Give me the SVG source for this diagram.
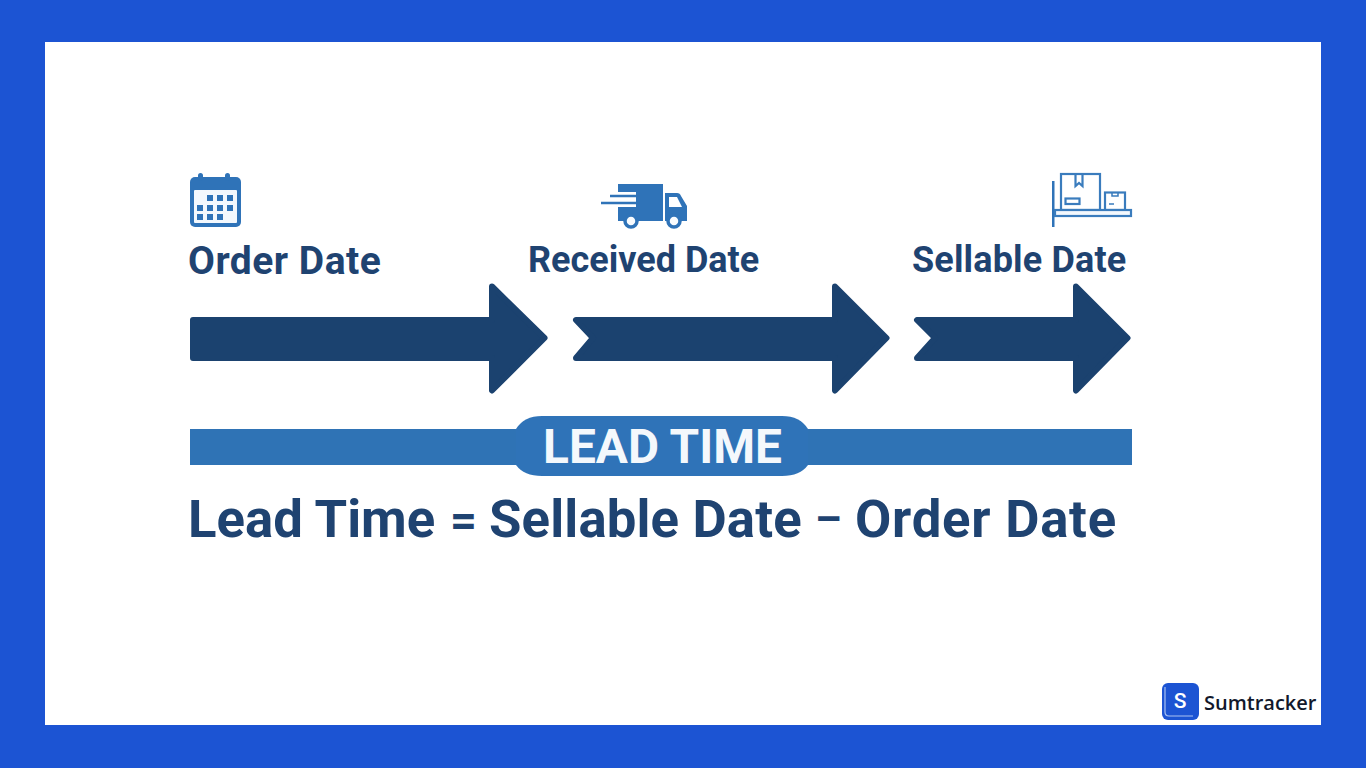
<svg xmlns="http://www.w3.org/2000/svg" width="1366" height="768" viewBox="0 0 1366 768">
<style>
text{font-family:Roboto,"Liberation Sans",sans-serif;font-weight:700;fill:#1f4371}
.lbl{font-size:36px}
.arrow{fill:#1b426f;stroke:#1b426f;stroke-width:6;stroke-linejoin:round}
.ico{fill:none;stroke:#3a7cbd;stroke-width:2.200}
.solid{fill:#2f73b8}
</style>
<rect width="1366" height="768" fill="#1c54d3"/>
<rect x="45" y="42" width="1276" height="683" fill="#ffffff"/>
<g id="connectors">
<path class="arrow" d="M193 320H492V286.500L544.500 338L492 390.500V358H193Z"/>
<path class="arrow" d="M576 320H835V286.500L886.500 338L835 390.500V358H576L593 338Z"/>
<path class="arrow" d="M917 320H1076V286.500L1127.500 338L1076 390.500V358H917L935 338Z"/>
</g>
<g id="lead-time">
<rect x="190" y="429" width="942" height="36" fill="#2f73b5"/>
<path d="M516 429Q524 416 542 416H782Q800 416 808 429V465Q800 476 782 476H542Q524 476 516 465Z" fill="#2f73b8"/>
<text x="662.500" y="463" font-size="47.800" text-anchor="middle" style="fill:#f4f8fc">LEAD TIME</text>
</g>
<g id="order-date">
<rect x="190" y="177" width="51" height="50" rx="5" class="solid"/>
<rect x="194" y="190" width="43" height="33" rx="1" fill="#f3f8fd"/>
<rect x="198" y="173" width="5" height="8" rx="2.500" class="solid"/>
<rect x="225" y="173" width="5" height="8" rx="2.500" class="solid"/>
<path class="solid" d="M207 195h6v6h-6zM217 195h6v6h-6zM227 195h6v6h-6zM197 205h6v6h-6zM207 205h6v6h-6zM217 205h6v6h-6zM227 205h6v6h-6zM197 214h6v6h-6zM207 214h6v6h-6zM217 214h6v6h-6z"/>
<text x="188" y="274" font-size="39" letter-spacing="0.500">Order Date</text>
</g>
<g id="received-date">
<path class="solid" d="M618 184H663V221H618V207H636V192H618Z"/>
<path d="M610 196H636M601 203H636" stroke="#2f73b8" stroke-width="2.500" fill="none"/>
<path class="solid" d="M665 193H677Q680 193 681 196L687 206V221H665Z"/>
<path d="M669 197H677L682 207H669Z" fill="#ffffff"/>
<circle cx="631" cy="221" r="6" fill="#f8fbfe" stroke="#2f73b8" stroke-width="3.500"/>
<circle cx="674" cy="221" r="6" fill="#f8fbfe" stroke="#2f73b8" stroke-width="3.500"/>
<text class="lbl" x="528" y="272">Received Date</text>
</g>
<g id="sellable-date">
<rect x="1052" y="181" width="2.500" height="46" class="solid"/>
<rect x="1061" y="174" width="39" height="36" class="ico"/>
<path class="ico" d="M1075.500 174V186L1079 183L1082.500 186V174"/>
<rect x="1065.500" y="198.500" width="14" height="5.500" class="ico"/>
<rect x="1105" y="192.500" width="20" height="17.500" class="ico"/>
<path class="ico" d="M1112 193V196H1118V193M1109 204H1114" style="stroke-width:1.500"/>
<rect x="1055" y="210" width="76" height="6" class="ico" style="fill:#f3f8fd"/>
<text class="lbl" x="912" y="271.500" letter-spacing="0.150">Sellable Date</text>
</g>
<text id="formula" y="537" font-size="52.700"><tspan x="188">Lead Time</tspan> <tspan x="450" y="536" font-size="47">=</tspan> <tspan x="489" y="537" letter-spacing="0.150">Sellable Date</tspan> <tspan x="815" y="534" font-size="42">–</tspan> <tspan x="855" y="537" letter-spacing="0.750">Order Date</tspan></text>
<g id="logo">
<rect x="1162" y="683" width="37" height="37" rx="6" fill="#1c54d3"/>
<path d="M1165 687V712Q1165 716 1169 716H1193" fill="none" stroke="#a9c2f2" stroke-width="1.200"/>
<text x="1180" y="708" font-size="21" text-anchor="middle" style="fill:#ffffff;font-weight:500">S</text>
<text x="1204" y="710" font-size="20" style="fill:#12182b;font-family:'Open Sans','Noto Sans',sans-serif;font-weight:600">Sumtracker</text>
</g>
</svg>
